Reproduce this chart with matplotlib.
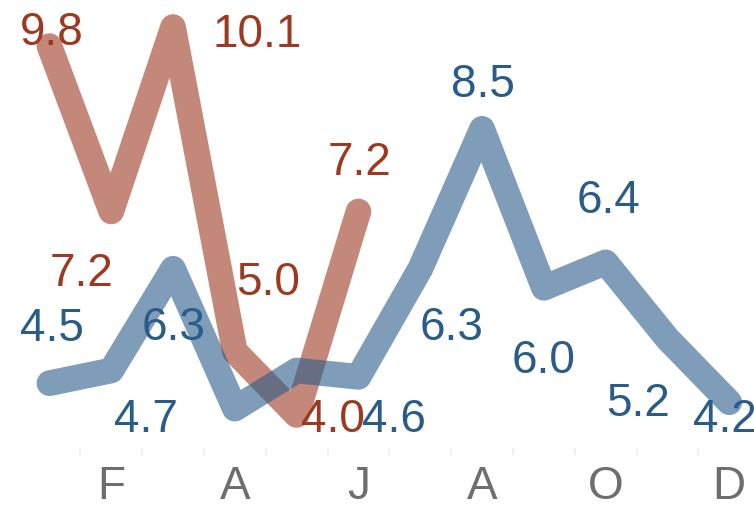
import numpy as np
import matplotlib.pyplot as plt

plt.rcParams['font.family'] = ['Liberation Sans', 'DejaVu Sans']

months = ["J", "F", "M", "A", "M", "J", "J", "A", "S", "O", "N", "D"]
blue_vals = [4.5, 4.7, 6.3, 4.1, 4.7, 4.6, 6.3, 8.5, 6.0, 6.4, 5.2, 4.2]
red_vals = [9.8, 7.2, 10.1, 5.0, 4.0, 7.2]

# label offsets in pixels (dx, dy of baseline); None = no label shown
blue_off = [(2, 42), (35, -62), (1, -71), None, None, (35, -55),
            (31, -71), (1, 32), (0, -85), (3, 49), (-29, -77), (-4, -30)]
red_off = [(2, 1), (-30, -75), (84, -20), (33, 56), (36, -17), (1, 36)]

blue = "#2a5c8a"
red = "#9d3921"

fig = plt.figure(figsize=(7.54, 5.07), dpi=100)
ax = fig.add_axes([0, 59 / 507, 1, 448 / 507])

x = np.arange(len(months))
ax.plot(x[:len(red_vals)], red_vals, color=red, alpha=0.6, lw=18.5,
        solid_capstyle='round', solid_joinstyle='round', zorder=2)
ax.plot(x, blue_vals, color=blue, alpha=0.6, lw=18.5,
        solid_capstyle='round', solid_joinstyle='round', zorder=3)

for vals, offs, c in [(red_vals, red_off, red), (blue_vals, blue_off, blue)]:
    for i, v in enumerate(vals):
        if offs[i] is None:
            continue
        ax.annotate(f"{v:.1f}", (x[i], v), xytext=offs[i], textcoords='offset pixels',
                    ha='center', va='baseline', fontsize=33, color=c, zorder=4)

ax.set_xlim(-0.8, 11.4)
ax.set_ylim(3.481, 10.525)
ax.set_xticks(x[1::2])
ax.set_xticklabels(months[1::2], fontsize=33, color="#6e6e6e")
ax.set_xticks(x[:-1] + 0.5, minor=True)
ax.tick_params(axis='x', which='major', length=0, pad=12)
ax.tick_params(axis='x', which='minor', length=5, width=1.2, color="#eeeeee")
ax.set_yticks([])
for s in ax.spines.values():
    s.set_visible(False)

fig.savefig("out.png", dpi=100)
